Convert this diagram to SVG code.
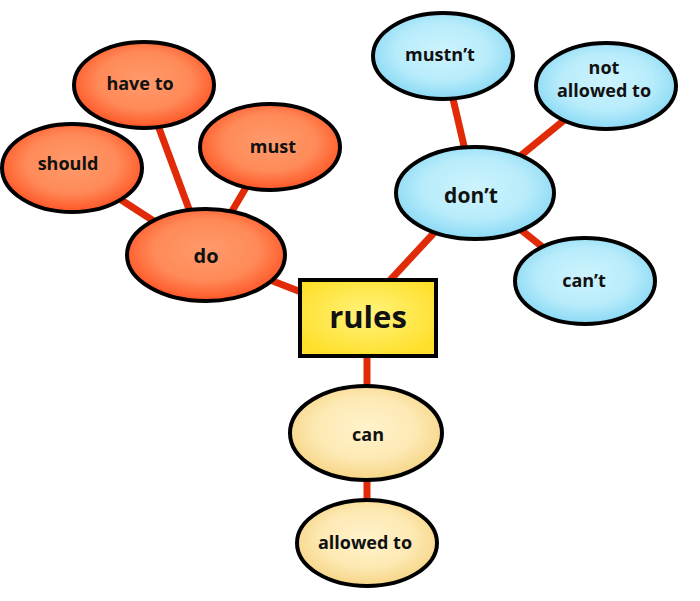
<svg xmlns="http://www.w3.org/2000/svg" width="700" height="601" viewBox="0 0 700 601">
<defs>
<radialGradient id="gOr" cx="50%" cy="45%" r="55%">
<stop offset="0" stop-color="#ff9a6c"/><stop offset="0.6" stop-color="#ff8a58"/><stop offset="1" stop-color="#ff5526"/>
</radialGradient>
<radialGradient id="gBl" cx="50%" cy="45%" r="55%">
<stop offset="0" stop-color="#cdf3fd"/><stop offset="0.6" stop-color="#b8ecfb"/><stop offset="1" stop-color="#8ad9f4"/>
</radialGradient>
<radialGradient id="gYe" cx="50%" cy="45%" r="60%">
<stop offset="0" stop-color="#fff47e"/><stop offset="1" stop-color="#ffdf2a"/>
</radialGradient>
<radialGradient id="gCr" cx="50%" cy="45%" r="55%">
<stop offset="0" stop-color="#fff2cc"/><stop offset="0.6" stop-color="#fde9b3"/><stop offset="1" stop-color="#f6d587"/>
</radialGradient>
</defs>
<style>
.n{stroke:#000;stroke-width:4}
.or{fill:url(#gOr)}
.bl{fill:url(#gBl)}
.cr{fill:url(#gCr)}
.t{font-family:"Open Sans","Noto Sans",sans-serif;font-weight:bold;fill:#111;text-anchor:middle;font-size:18px}
.c line{stroke:#e02a08;stroke-width:7}
</style>
<g id="connectors" class="c">
<line x1="72" y1="168" x2="206" y2="255"/>
<line x1="143" y1="85" x2="206" y2="255"/>
<line x1="270" y1="147" x2="206" y2="255"/>
<line x1="206" y1="255" x2="368" y2="318"/>
<line x1="355" y1="318" x2="471" y2="193"/>
<line x1="443" y1="56" x2="475" y2="193"/>
<line x1="606" y1="86" x2="475" y2="193"/>
<line x1="585" y1="281" x2="475" y2="193"/>
<line x1="367" y1="318" x2="367" y2="433"/>
<line x1="367" y1="433" x2="367" y2="543"/>
</g>
<g id="have-to"><ellipse class="n or" cx="144" cy="85" rx="70" ry="43"/><text class="t" x="140" y="90">have to</text></g>
<g id="should"><ellipse class="n or" cx="72" cy="168" rx="70" ry="44"/><text class="t" x="68" y="170">should</text></g>
<g id="must"><ellipse class="n or" cx="270" cy="147" rx="70" ry="43"/><text class="t" x="273" y="153">must</text></g>
<g id="do"><ellipse class="n or" cx="206" cy="255" rx="79" ry="46"/><text class="t" x="206" y="263" style="font-size:20px">do</text></g>
<g id="rules"><rect x="300" y="280" width="136" height="76" fill="url(#gYe)" stroke="#000" stroke-width="4"/><text class="t" x="368" y="328" style="font-size:31px">rules</text></g>
<g id="mustnt"><ellipse class="n bl" cx="443" cy="56" rx="70" ry="43"/><text class="t" x="440" y="61">mustn’t</text></g>
<g id="not-allowed-to"><ellipse class="n bl" cx="606" cy="86" rx="70" ry="43"/><text class="t" x="604" y="74">not</text><text class="t" x="604" y="97">allowed to</text></g>
<g id="dont"><ellipse class="n bl" cx="475" cy="193" rx="79" ry="46"/><text class="t" x="471" y="203" style="font-size:21px">don’t</text></g>
<g id="cant"><ellipse class="n bl" cx="585" cy="281" rx="70" ry="43"/><text class="t" x="584" y="287">can’t</text></g>
<g id="can"><ellipse class="n cr" cx="366" cy="433" rx="76" ry="47"/><text class="t" x="368" y="441">can</text></g>
<g id="allowed-to"><ellipse class="n cr" cx="367" cy="543" rx="70" ry="43"/><text class="t" x="365" y="549">allowed to</text></g>
</svg>
